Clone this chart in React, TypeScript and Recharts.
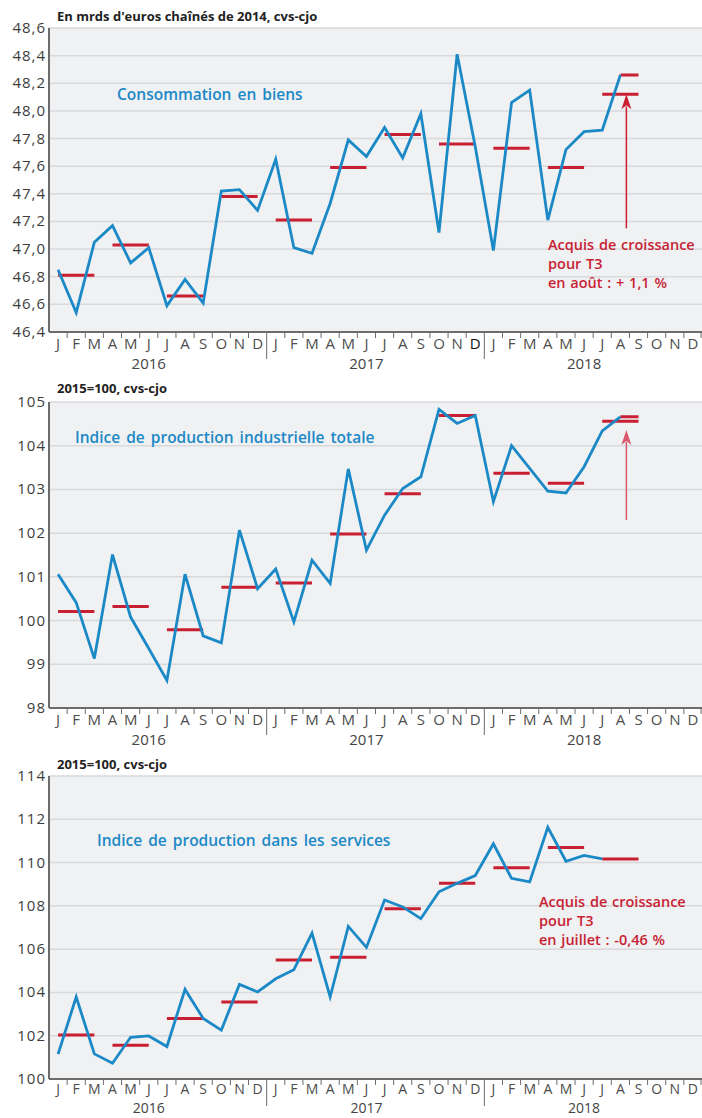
import React from 'react';
import { ComposedChart, Line, XAxis, YAxis, CartesianGrid, ReferenceLine } from 'recharts';

const MONTHS = ['J', 'F', 'M', 'A', 'M', 'J', 'J', 'A', 'S', 'O', 'N', 'D'];
const YEARS = ['2016', '2017', '2018'];

// Consommation en biens, mrds d'euros chaînés 2014 (janv. 2016 - août 2018)
const biensMensuel = [
  46.85, 46.54, 47.05, 47.17, 46.9, 47.01, 46.59, 46.78, 46.61, 47.42, 47.43, 47.28,
  47.65, 47.01, 46.97, 47.33, 47.79, 47.67, 47.88, 47.66, 47.98, 47.12, 48.41, 47.74,
  46.99, 48.06, 48.15, 47.21, 47.72, 47.85, 47.86, 48.26,
];
const biensTrim = [46.81, 47.03, 46.66, 47.38, 47.21, 47.59, 47.83, 47.76, 47.73, 47.59];
const biensT3 = [48.12, 48.26]; // acquis T3, niveau d'août prolongé
const biensFleche = [47.15, 48.12];
const biensTicks = [46.4, 46.6, 46.8, 47.0, 47.2, 47.4, 47.6, 47.8, 48.0, 48.2, 48.4, 48.6];

// Indice de production industrielle totale, 2015=100
const ipiMensuel = [
  101.06, 100.41, 99.13, 101.51, 100.08, 99.36, 98.63, 101.06, 99.65, 99.49, 102.07, 100.73,
  101.18, 99.97, 101.38, 100.85, 103.47, 101.61, 102.41, 103.02, 103.29, 104.83, 104.51, 104.69,
  102.72, 104.0, 103.48, 102.96, 102.92, 103.52, 104.34, 104.66,
];
const ipiTrim = [100.21, 100.32, 99.79, 100.76, 100.86, 101.98, 102.9, 104.69, 103.37, 103.14];
const ipiT3 = [104.56, 104.66];
const ipiFleche = [102.3, 104.36];
const ipiTicks = [98, 99, 100, 101, 102, 103, 104, 105];

// Indice de production dans les services, 2015=100 (janv. 2016 - juil. 2018)
const servMensuel = [
  101.15, 103.79, 101.16, 100.73, 101.93, 101.99, 101.5, 104.14, 102.8, 102.26, 104.37, 104.02,
  104.63, 105.05, 106.74, 103.79, 107.05, 106.08, 108.27, 107.95, 107.41, 108.65, 109.04, 109.4,
  110.87, 109.27, 109.11, 111.63, 110.06, 110.33, 110.17,
];
const servTrim = [102.03, 101.56, 102.8, 103.56, 105.5, 105.62, 107.87, 109.04, 109.76, 110.7];
const servT3 = [110.17];
const servTicks = [100, 102, 104, 106, 108, 110, 112, 114];

const FONT = '"Open Sans", "Noto Sans", sans-serif';
const BLUE = '#1c89c7';
const RED = '#c81f33';
const AXIS = '#6c6c6c';
const PLOT_LEFT = 49;
const BAND = (702 - PLOT_LEFT) / 36;

function buildRows(monthly: number[], quarterly: number[], t3: number[]) {
  return Array.from({ length: 36 }, (_, i) => {
    const q = Math.floor(i / 3);
    return {
      key: `${YEARS[Math.floor(i / 12)]}-${(i % 12) + 1}`,
      v: monthly[i] ?? null,
      qa: q < quarterly.length && q % 2 === 0 ? quarterly[q] : null,
      qb: q < quarterly.length && q % 2 === 1 ? quarterly[q] : null,
      acq: q === quarterly.length ? t3[0] : null,
      niv: t3.length > 1 && q === quarterly.length && i % 3 > 0 ? t3[1] : null,
    };
  });
}

function MonthTick(props: any) {
  const { x, y, payload, dark, compact } = props;
  const i = payload?.index ?? props.index;
  const m = i % 12;
  const left = x - BAND / 2;
  const fs = compact ? 14 : 15;
  return (
    <g>
      {i > 0 && (
        <line x1={left} x2={left} y1={y} y2={y + (m === 0 ? 27 : 6)} stroke={AXIS} strokeWidth={1} />
      )}
      {i === 35 && <line x1={x + BAND / 2 - 1} x2={x + BAND / 2 - 1} y1={y} y2={y + 6} stroke={AXIS} />}
      <text x={x} y={y + (compact ? 15 : 17)} textAnchor="middle" fontSize={fs} fontFamily={FONT} fill={dark === i ? '#111' : '#4d4d4d'}>
        {MONTHS[m]}
      </text>
      {m === 5 && (
        <text x={x} y={y + (compact ? 34 : 37)} textAnchor="middle" fontSize={fs} fontFamily={FONT} fill="#444">
          {YEARS[Math.floor(i / 12)]}
        </text>
      )}
    </g>
  );
}

function ValueTick(props: any) {
  const { x, y, payload, decimals } = props;
  const label = decimals ? payload.value.toFixed(1).replace('.', ',') : String(payload.value);
  return (
    <text x={x - 3} y={y + 5} textAnchor="end" fontSize={15} fontFamily={FONT} fill="#3d3d3d" letterSpacing={1}>
      {label}
    </text>
  );
}

function Arrow(props: any) {
  const { x1, y1, y2, color } = props;
  const x = x1 + 6;
  return (
    <g>
      <line x1={x} x2={x} y1={y1} y2={y2 + 12} stroke={color} strokeWidth={1.5} />
      <path d={`M${x},${y2} L${x + 5},${y2 + 15} L${x},${y2 + 11} L${x - 5},${y2 + 15} Z`} fill={color} />
    </g>
  );
}

interface PanelProps {
  top: number;
  height: number;
  marginTop: number;
  axisHeight: number;
  rows: any[];
  ticks: number[];
  decimals?: boolean;
  fleche?: number[];
  flecheColor?: string;
  dark?: number;
  compact?: boolean;
}

function Panel({ top, height, marginTop, axisHeight, rows, ticks, decimals, fleche, flecheColor, dark, compact }: PanelProps) {
  const aout = rows[31].key;
  return (
    <div style={{ position: 'absolute', left: 0, top }}>
      <ComposedChart width={702} height={height} data={rows} margin={{ top: marginTop, right: 0, left: 0, bottom: 0 }}>
        <CartesianGrid vertical={false} stroke="#d8d9dc" strokeWidth={1.5} fill="#f0f1f3" />
        <XAxis
          dataKey="key"
          scale="band"
          interval={0}
          tickLine={false}
          tickSize={0}
          tickMargin={0}
          height={axisHeight}
          axisLine={{ stroke: AXIS, strokeWidth: 2 }}
          tick={<MonthTick dark={dark} compact={compact} />}
        />
        <YAxis
          domain={[ticks[0], ticks[ticks.length - 1]]}
          ticks={ticks}
          width={PLOT_LEFT}
          tickLine={false}
          tickSize={0}
          tickMargin={0}
          axisLine={{ stroke: AXIS, strokeWidth: 2 }}
          tick={<ValueTick decimals={decimals} />}
          allowDataOverflow
        />
        <Line dataKey="qa" stroke={RED} strokeWidth={3} dot={false} isAnimationActive={false} />
        <Line dataKey="qb" stroke={RED} strokeWidth={3} dot={false} isAnimationActive={false} />
        <Line dataKey="acq" stroke={RED} strokeWidth={3} dot={false} isAnimationActive={false} />
        <Line dataKey="niv" stroke={RED} strokeWidth={3} dot={false} isAnimationActive={false} />
        <Line dataKey="v" stroke={BLUE} strokeWidth={2.8} dot={false} isAnimationActive={false} />
        {fleche && (
          <ReferenceLine
            segment={[{ x: aout, y: fleche[0] }, { x: aout, y: fleche[1] }]}
            shape={(p: any) => <Arrow {...p} color={flecheColor} />}
          />
        )}
      </ComposedChart>
    </div>
  );
}

const textStyle = { fontFamily: FONT };

export default function App() {
  return (
    <div style={{ position: 'absolute', left: 0, top: 0, width: 702, height: 1118, overflow: 'hidden', background: '#fff' }}>
      <Panel
        top={0}
        height={372}
        marginTop={28}
        axisHeight={40}
        rows={buildRows(biensMensuel, biensTrim, biensT3)}
        ticks={biensTicks}
        decimals
        fleche={biensFleche}
        flecheColor={RED}
        dark={23}
      />
      <Panel
        top={370}
        height={378}
        marginTop={32}
        axisHeight={40}
        rows={buildRows(ipiMensuel, ipiTrim, ipiT3)}
        ticks={ipiTicks}
        fleche={ipiFleche}
        flecheColor="#d9596a"
      />
      <Panel
        top={748}
        height={370}
        marginTop={28}
        axisHeight={39}
        rows={buildRows(servMensuel, servTrim, servT3)}
        ticks={servTicks}
        compact
      />
      <svg width={702} height={1118} style={{ position: 'absolute', left: 0, top: 0, pointerEvents: 'none' }}>
        <g style={textStyle} fontWeight={700} fontSize={13} fill="#222">
          <text x={57} y={21}>En mrds d'euros chaînés de 2014, cvs-cjo</text>
          <text x={57} y={393}>2015=100, cvs-cjo</text>
          <text x={57} y={769}>2015=100, cvs-cjo</text>
        </g>
        <g style={textStyle} fontWeight={600} fontSize={15.5} fill={BLUE} wordSpacing={2}>
          <text x={117} y={100}>Consommation en biens</text>
          <text x={75} y={443}>Indice de production industrielle totale</text>
          <text x={97} y={846}>Indice de production dans les services</text>
        </g>
        <g style={textStyle} fontWeight={600} fontSize={14.5} fill={RED} wordSpacing={1}>
          <text x={548} y={250}>Acquis de croissance</text>
          <text x={548} y={269}>pour T3</text>
          <text x={548} y={288}>en août : + 1,1 %</text>
          <text x={539} y={907}>Acquis de croissance</text>
          <text x={539} y={926}>pour T3</text>
          <text x={539} y={945}>en juillet : -0,46 %</text>
        </g>
      </svg>
    </div>
  );
}
